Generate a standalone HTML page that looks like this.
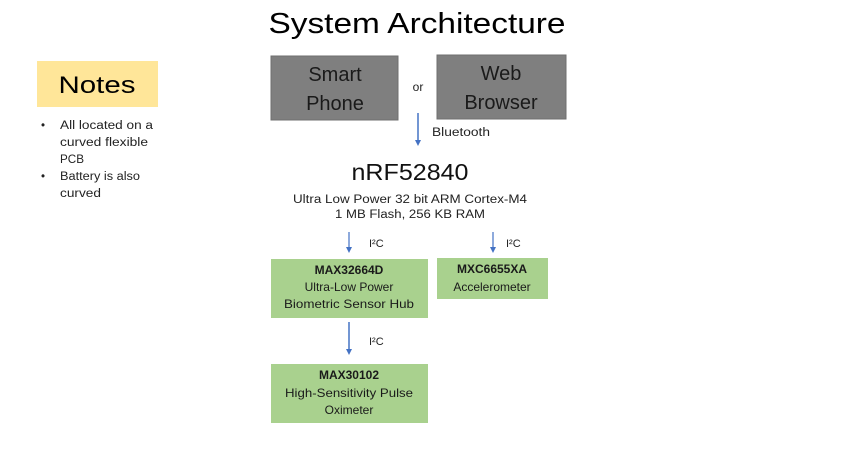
<!DOCTYPE html>
<html><head><meta charset="utf-8"><style>
html,body{margin:0;padding:0;background:#fff;}
svg{display:block;font-family:"Liberation Sans",sans-serif;}
</style></head><body>
<svg width="847" height="453" viewBox="0 0 847 453" xmlns="http://www.w3.org/2000/svg">
<defs><marker id="ah" markerUnits="userSpaceOnUse" markerWidth="6" markerHeight="6" refX="3" refY="3" orient="auto"><path d="M0,0 L6,3 L0,6 z" fill="#4472c4"/></marker></defs>
<text x="417" y="33" font-size="29" text-anchor="middle" fill="#000" textLength="297" lengthAdjust="spacingAndGlyphs">System Architecture</text>
<rect x="37" y="61" width="121" height="46" fill="#ffe699"/>
<text x="97" y="93" font-size="24" text-anchor="middle" fill="#000" textLength="77" lengthAdjust="spacingAndGlyphs">Notes</text>
<g font-size="11.5" fill="#222">
<text x="41" y="129">•</text><text x="60" y="129" textLength="93" lengthAdjust="spacingAndGlyphs">All located on a</text>
<text x="60" y="146" textLength="88" lengthAdjust="spacingAndGlyphs">curved flexible</text>
<text x="60" y="163" textLength="24" lengthAdjust="spacingAndGlyphs">PCB</text>
<text x="41" y="180">•</text><text x="60" y="180" textLength="80" lengthAdjust="spacingAndGlyphs">Battery is also</text>
<text x="60" y="197" textLength="41" lengthAdjust="spacingAndGlyphs">curved</text>
</g>
<rect x="271" y="56" width="127" height="64" fill="#7f7f7f" stroke="#6f6f6f"/>
<text x="335" y="81" font-size="20" text-anchor="middle" fill="#1a1a1a">Smart</text>
<text x="335" y="110" font-size="20" text-anchor="middle" fill="#1a1a1a">Phone</text>
<rect x="437" y="55" width="129" height="64" fill="#7f7f7f" stroke="#6f6f6f"/>
<text x="501" y="80" font-size="20" text-anchor="middle" fill="#1a1a1a">Web</text>
<text x="501" y="109" font-size="20" text-anchor="middle" fill="#1a1a1a">Browser</text>
<text x="418" y="91" font-size="12" text-anchor="middle" fill="#222">or</text>
<line x1="418" y1="113" x2="418" y2="143" stroke="#4472c4" stroke-width="1.5" marker-end="url(#ah)"/>
<text x="432" y="136" font-size="11.5" fill="#222" textLength="58" lengthAdjust="spacingAndGlyphs">Bluetooth</text>
<text x="410" y="180" font-size="23" text-anchor="middle" fill="#111" textLength="117" lengthAdjust="spacingAndGlyphs">nRF52840</text>
<text x="410" y="203" font-size="11.5" text-anchor="middle" fill="#222" textLength="234" lengthAdjust="spacingAndGlyphs">Ultra Low Power 32 bit ARM Cortex-M4</text>
<text x="410" y="218" font-size="11.5" text-anchor="middle" fill="#222" textLength="150" lengthAdjust="spacingAndGlyphs">1 MB Flash, 256 KB RAM</text>
<line x1="349" y1="232" x2="349" y2="250" stroke="#4472c4" stroke-width="1.2" marker-end="url(#ah)"/>
<text x="369" y="247" font-size="11" fill="#222">I²C</text>
<line x1="493" y1="232" x2="493" y2="250" stroke="#4472c4" stroke-width="1.2" marker-end="url(#ah)"/>
<text x="506" y="247" font-size="11" fill="#222">I²C</text>
<rect x="271" y="259" width="157" height="59" fill="#a9d18e"/>
<text x="349" y="274" font-size="12" font-weight="bold" text-anchor="middle" fill="#1a1a1a">MAX32664D</text>
<text x="349" y="291" font-size="12" text-anchor="middle" fill="#1a1a1a">Ultra-Low Power</text>
<text x="349" y="308" font-size="12" text-anchor="middle" fill="#1a1a1a" textLength="130" lengthAdjust="spacingAndGlyphs">Biometric Sensor Hub</text>
<rect x="437" y="258" width="111" height="41" fill="#a9d18e"/>
<text x="492" y="273" font-size="12" font-weight="bold" text-anchor="middle" fill="#1a1a1a">MXC6655XA</text>
<text x="492" y="291" font-size="12" text-anchor="middle" fill="#1a1a1a">Accelerometer</text>
<line x1="349" y1="322" x2="349" y2="352" stroke="#4472c4" stroke-width="1.5" marker-end="url(#ah)"/>
<text x="369" y="345" font-size="11" fill="#222">I²C</text>
<rect x="271" y="364" width="157" height="59" fill="#a9d18e"/>
<text x="349" y="379" font-size="12" font-weight="bold" text-anchor="middle" fill="#1a1a1a">MAX30102</text>
<text x="349" y="397" font-size="12" text-anchor="middle" fill="#1a1a1a" textLength="128" lengthAdjust="spacingAndGlyphs">High-Sensitivity Pulse</text>
<text x="349" y="414" font-size="12" text-anchor="middle" fill="#1a1a1a">Oximeter</text>
</svg>
</body></html>
